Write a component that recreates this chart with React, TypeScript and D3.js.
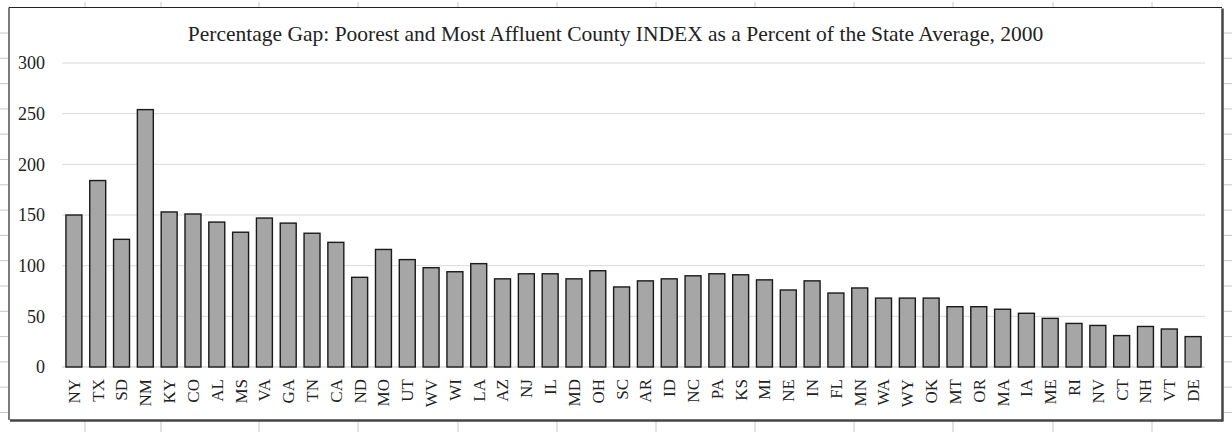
import React from "react";
import * as d3 from "d3";

const states = ["NY","TX","SD","NM","KY","CO","AL","MS","VA","GA","TN","CA","ND","MO","UT","WV","WI","LA","AZ","NJ","IL","MD","OH","SC","AR","ID","NC","PA","KS","MI","NE","IN","FL","MN","WA","WY","OK","MT","OR","MA","IA","ME","RI","NV","CT","NH","VT","DE"];
const values = [150,184,126,254,153,151,143,133,147,142,132,123,88.5,116,106,98,94,102,87,92,92,87,95,79,85,87,90,92,91,86,76,85,73,78,68,68,68,59.5,59.5,57,53,48,43,41,31,40,37.5,30];
const yTicks = [0,50,100,150,200,250,300];
const title = "Percentage Gap: Poorest and Most Affluent County INDEX as a Percent of the State Average, 2000";
const rulerX = [85,161,259,358,458,557,656,755,854,953,1053,1152];

const W = 1232, H = 432;
const frame = { l: 9, t: 7.5, r: 1222, b: 420 };
const plot = { l: 62, r: 1205, t: 63, b: 367 };

export default function App() {
  const x = d3.scaleBand<string>().domain(states).range([plot.l, plot.r]).paddingInner(0.33).paddingOuter(0.165);
  const y = d3.scaleLinear().domain([0, 300]).range([plot.b, plot.t]);
  const rulerY = d3.range(33, 420, 25.3);
  const font = "'Liberation Serif', 'Times New Roman', serif";
  return (
    <div style={{ position: "absolute", left: 0, top: 0 }}>
      <svg width={W} height={H} style={{ display: "block", background: "#fff" }}>
        {/* ruler ticks outside the frame */}
        {rulerX.map((v) => (
          <g key={"rx" + v} stroke="#c8c8c8" strokeWidth={1}>
            <line x1={v} x2={v} y1={2} y2={7} />
            <line x1={v} x2={v} y1={421} y2={432} />
          </g>
        ))}
        {rulerY.map((v) => (
          <g key={"ry" + v} stroke="#c8c8c8" strokeWidth={1}>
            <line x1={0} x2={8} y1={v} y2={v} />
            <line x1={1224} x2={1232} y1={v} y2={v} />
          </g>
        ))}
        {/* frame */}
        <rect x={frame.l} y={frame.t} width={frame.r - frame.l} height={frame.b - frame.t} fill="#fff" stroke="none" />
        <line x1={frame.l + 1} x2={frame.r + 1} y1={frame.b + 0.5} y2={frame.b + 0.5} stroke="#444" strokeWidth={2.5} />
        <line x1={frame.r + 0.5} x2={frame.r + 0.5} y1={frame.t + 1} y2={frame.b + 1.5} stroke="#444" strokeWidth={2.5} />
        <line x1={frame.l} x2={frame.r} y1={frame.t} y2={frame.t} stroke="#222" strokeWidth={1.2} />
        <line x1={frame.l} x2={frame.l} y1={frame.t} y2={frame.b} stroke="#222" strokeWidth={1.2} />
        {/* title */}
        <text x={(frame.l + frame.r) / 2} y={41} textAnchor="middle" fontFamily={font} fontSize={21.5} fill="#222">{title}</text>
        {/* gridlines */}
        {yTicks.map((t) => (
          <g key={"g" + t}>
            <line x1={plot.l} x2={plot.r} y1={y(t)} y2={y(t)} stroke="#d9d9d9" strokeWidth={t === 0 ? 1.5 : 1} />
            <text x={45} y={y(t)} dy="0.35em" textAnchor="end" fontFamily={font} fontSize={18} fill="#222">{t}</text>
          </g>
        ))}
        {/* bars */}
        {states.map((s, i) => (
          <rect key={s} x={x(s)} y={y(values[i])} width={x.bandwidth()} height={y(0) - y(values[i])}
            fill="#a6a6a6" stroke="#1a1a1a" strokeWidth={1.4} />
        ))}
        {/* x labels */}
        {states.map((s) => {
          const cx = (x(s) as number) + x.bandwidth() / 2;
          return (
            <text key={"l" + s} transform={`translate(${cx},379) rotate(-90)`} dy="0.35em" textAnchor="end"
              fontFamily={font} fontSize={17} fill="#222">{s}</text>
          );
        })}
      </svg>
    </div>
  );
}
